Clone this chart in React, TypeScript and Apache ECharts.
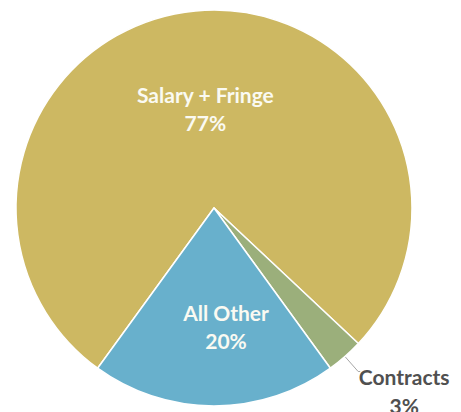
import React, { useEffect, useRef } from "react";
import * as echarts from "echarts";

const categories = ["Salary + Fringe", "Contracts", "All Other"];
const values = [77, 3, 20];
const colors = ["#CDB862", "#9BAF7B", "#68B0CC"];

export default function App() {
  const ref = useRef<HTMLDivElement>(null);
  useEffect(() => {
    document.body.style.margin = "0";
    const chart = echarts.init(ref.current!, null, { renderer: "svg" });
    const font = "Lato";
    chart.setOption({
      animation: false,
      backgroundColor: "#ffffff",
      series: [
        {
          type: "pie",
          center: [214, 208],
          radius: 198,
          startAngle: 234,
          clockwise: true,
          avoidLabelOverlap: false,
          itemStyle: { borderColor: "#ffffff", borderWidth: 1.5 },
          label: {
            position: "inside",
            formatter: "{b}\n{d}%",
            color: "#FAFAF2",
            fontFamily: font,
            fontWeight: "bold",
            fontSize: 21,
            lineHeight: 28,
            align: "center",
          },
          labelLayout: (p: any) => {
            if (p.dataIndex === 2) return { dx: 12, dy: 16 };
            if (p.dataIndex === 0) return { dx: 1, dy: 2 };
            return { dx: -6, dy: 19 };
          },
          data: categories.map((name, i) => {
            const item: any = { name, value: values[i], itemStyle: { color: colors[i] } };
            if (i === 1) {
              item.label = {
                position: "outside",
                color: "#505050",
                formatter: "{a|{b}}\n{a|{d}%}",
                rich: {
                  a: {
                    width: 90,
                    align: "center",
                    color: "#505050",
                    fontFamily: font,
                    fontWeight: "bold",
                    fontSize: 21,
                    lineHeight: 29,
                  },
                },
              };
              item.labelLine = {
                show: true,
                length: 20,
                length2: 2,
                lineStyle: { color: "#A6A6A6", width: 1 },
              };
            }
            return item;
          }),
        },
      ],
    });
    return () => chart.dispose();
  }, []);
  return <div ref={ref} style={{ width: 461, height: 412 }} />;
}
